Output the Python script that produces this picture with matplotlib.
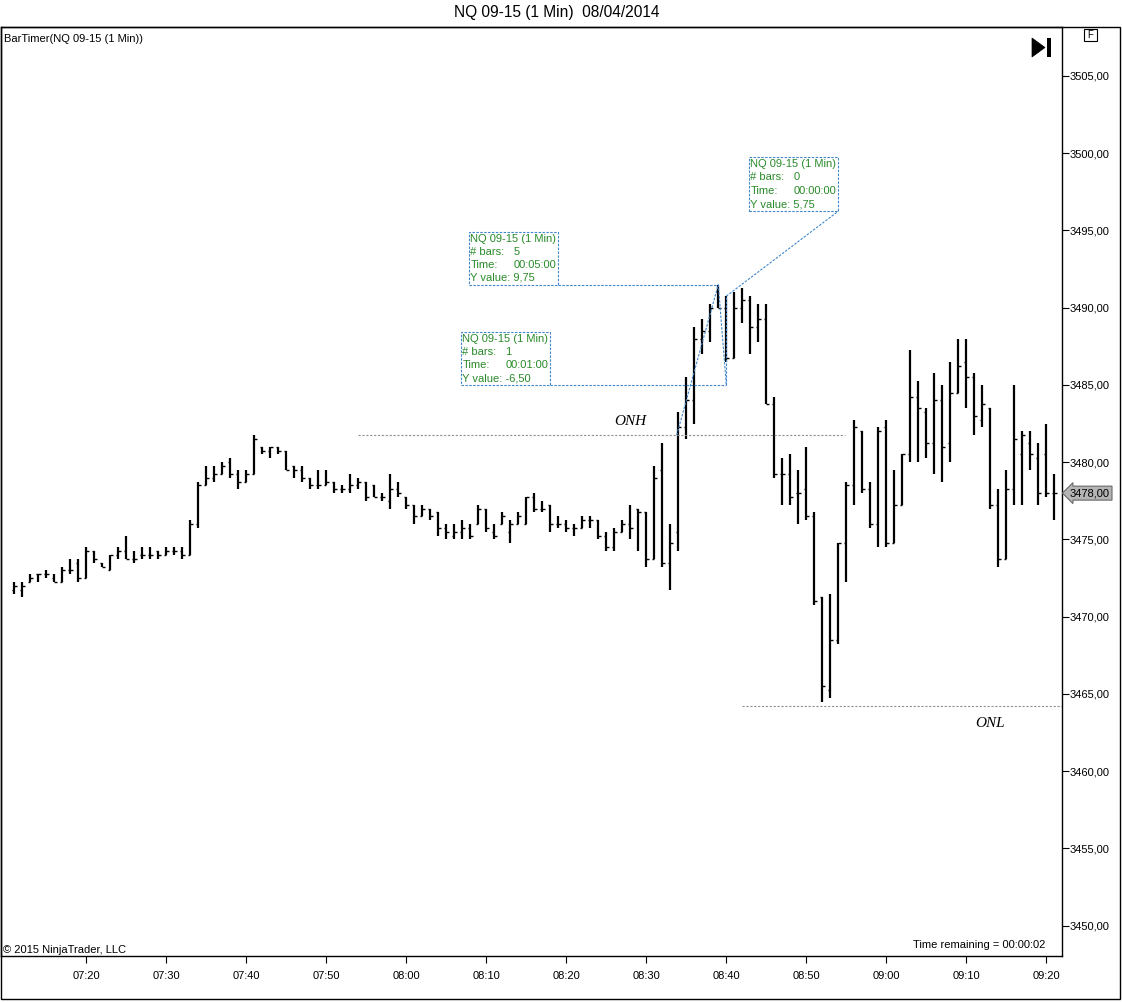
import matplotlib
matplotlib.use("Agg")
import matplotlib.pyplot as plt
import matplotlib.transforms as mtransforms
from matplotlib.patches import Rectangle, Polygon

plt.rcParams['font.family'] = ['Liberation Sans', 'DejaVu Sans']

# 1 minute bars, first bar at 07:11
start_hour = 7
start_min = 11
opens = [3471.75, 3471.75, 3472.25, 3472.75, 3472.75, 3472.5, 3472.25, 3473.0, 3473.5, 3472.5,
         3474.25, 3473.5, 3473.0, 3474.0, 3474.25, 3473.75, 3474.0, 3474.0, 3474.25, 3474.0,
         3474.25, 3474.25, 3474.0, 3476.0, 3478.5, 3479.0, 3479.25, 3480.0, 3479.25, 3478.75,
         3479.25, 3481.0, 3480.75, 3481.0, 3480.75, 3479.75, 3479.5, 3479.0, 3478.5, 3478.5,
         3478.75, 3478.25, 3478.25, 3478.5, 3478.75, 3478.5, 3477.75, 3477.5, 3478.25, 3477.75,
         3477.25, 3476.5, 3477.0, 3476.75, 3475.75, 3475.25, 3475.5, 3475.75, 3476.0, 3477.0,
         3475.5, 3476.0, 3475.5, 3476.0, 3476.0, 3477.75, 3477.0, 3477.25, 3476.0, 3476.0,
         3475.75, 3475.75, 3476.25, 3476.25, 3475.25, 3474.5, 3475.5, 3476.0, 3477.0, 3476.75,
         3473.75, 3479.5, 3473.5, 3475.5, 3482.25, 3484.0, 3488.0, 3488.5, 3491.0, 3490.0,
         3486.75, 3490.0, 3490.5, 3488.75, 3489.25, 3483.75, 3479.25, 3479.25, 3478.0, 3478.25,
         3476.5, 3471.25, 3465.25, 3468.5, 3474.75, 3478.5, 3482.0, 3478.25, 3476.0, 3482.25,
         3474.75, 3477.25, 3480.5, 3484.25, 3483.25, 3481.25, 3484.0, 3481.25, 3484.5, 3486.5,
         3485.5, 3482.75, 3483.5, 3477.25, 3473.75, 3478.25, 3480.5, 3481.25, 3480.25, 3480.5,
         3478.0]
highs = [3472.25, 3472.25, 3472.75, 3472.75, 3473.0, 3472.75, 3473.25, 3473.75, 3473.75, 3474.5,
         3474.25, 3473.5, 3474.0, 3474.5, 3475.25, 3474.25, 3474.5, 3474.5, 3474.25, 3474.5,
         3474.5, 3474.5, 3476.25, 3478.75, 3479.75, 3479.75, 3480.0, 3480.25, 3479.5, 3479.5,
         3481.75, 3481.0, 3481.0, 3481.0, 3480.75, 3479.75, 3479.75, 3479.0, 3479.5, 3479.5,
         3478.75, 3478.5, 3479.25, 3479.0, 3478.75, 3478.5, 3478.0, 3479.25, 3478.75, 3477.75,
         3477.25, 3477.25, 3477.0, 3476.75, 3476.0, 3476.0, 3476.25, 3476.0, 3477.25, 3477.0,
         3476.0, 3476.75, 3476.25, 3476.75, 3477.75, 3478.0, 3477.5, 3477.25, 3476.5, 3476.25,
         3476.0, 3476.5, 3476.5, 3476.25, 3475.5, 3475.75, 3476.25, 3477.25, 3477.0, 3476.75,
         3479.75, 3481.25, 3476.0, 3483.25, 3485.5, 3488.75, 3489.25, 3490.25, 3491.5, 3490.75,
         3491.0, 3491.25, 3490.75, 3490.25, 3490.25, 3484.25, 3480.25, 3480.5, 3479.5, 3481.0,
         3476.75, 3471.25, 3471.5, 3474.75, 3478.75, 3482.75, 3482.0, 3478.75, 3482.25, 3482.75,
         3479.5, 3480.5, 3487.25, 3485.25, 3483.5, 3485.75, 3485.0, 3486.5, 3488.0, 3488.0,
         3485.75, 3485.0, 3483.5, 3478.25, 3479.5, 3485.0, 3482.0, 3482.0, 3481.25, 3482.5,
         3479.25]
lows = [3471.5, 3471.25, 3472.25, 3472.25, 3472.5, 3472.25, 3472.25, 3472.75, 3472.25, 3472.5,
        3473.5, 3473.25, 3473.0, 3473.75, 3473.75, 3473.5, 3473.75, 3473.75, 3473.75, 3474.0,
        3474.0, 3473.75, 3474.0, 3475.75, 3478.5, 3478.75, 3479.25, 3479.0, 3478.25, 3478.75,
        3479.25, 3480.5, 3480.25, 3480.5, 3479.5, 3479.0, 3478.75, 3478.25, 3478.25, 3478.5,
        3478.0, 3478.0, 3478.0, 3478.25, 3477.5, 3477.75, 3477.5, 3477.0, 3477.75, 3477.0,
        3476.0, 3476.5, 3476.25, 3475.25, 3475.0, 3475.0, 3475.0, 3475.0, 3476.0, 3475.5,
        3475.0, 3476.0, 3474.75, 3476.0, 3476.0, 3476.75, 3476.75, 3475.5, 3475.75, 3475.5,
        3475.25, 3475.75, 3475.75, 3475.0, 3474.25, 3474.25, 3475.5, 3475.0, 3474.25, 3473.25,
        3473.75, 3473.25, 3471.75, 3474.25, 3481.5, 3482.5, 3487.0, 3487.75, 3490.0, 3486.5,
        3486.75, 3489.0, 3487.0, 3487.75, 3483.75, 3479.0, 3477.25, 3477.25, 3476.0, 3476.25,
        3470.75, 3464.5, 3464.75, 3468.25, 3472.25, 3477.25, 3478.0, 3475.75, 3474.5, 3474.5,
        3474.75, 3477.25, 3480.0, 3480.0, 3480.25, 3479.25, 3478.75, 3480.0, 3484.5, 3483.5,
        3481.75, 3482.25, 3477.0, 3473.25, 3473.75, 3477.25, 3477.25, 3479.5, 3477.25, 3477.75,
        3476.25]
closes = [3472.0, 3472.0, 3472.5, 3472.75, 3472.75, 3472.25, 3473.0, 3473.0, 3472.5, 3474.25,
          3473.75, 3473.25, 3474.0, 3474.25, 3473.75, 3473.75, 3474.0, 3474.0, 3474.0, 3474.25,
          3474.25, 3474.0, 3476.0, 3478.5, 3479.0, 3479.25, 3479.75, 3479.25, 3478.75, 3479.25,
          3481.5, 3480.75, 3481.0, 3480.75, 3479.5, 3479.5, 3479.0, 3478.5, 3478.5, 3478.75,
          3478.25, 3478.25, 3478.5, 3478.75, 3477.75, 3477.75, 3477.75, 3478.25, 3478.0, 3477.25,
          3476.5, 3477.0, 3476.5, 3475.75, 3475.5, 3475.5, 3475.75, 3475.25, 3477.0, 3475.75,
          3475.25, 3476.5, 3476.0, 3476.5, 3477.75, 3477.0, 3477.0, 3476.0, 3476.0, 3475.75,
          3475.75, 3476.25, 3476.25, 3475.25, 3474.5, 3475.5, 3476.0, 3475.75, 3476.75, 3473.75,
          3479.0, 3473.5, 3474.75, 3482.25, 3484.0, 3488.0, 3488.5, 3490.0, 3490.0, 3486.75,
          3490.0, 3490.5, 3488.75, 3489.25, 3483.75, 3479.25, 3479.25, 3477.75, 3478.0, 3476.5,
          3471.0, 3465.5, 3468.5, 3474.75, 3478.5, 3482.25, 3478.25, 3476.0, 3482.0, 3474.75,
          3477.25, 3480.5, 3484.25, 3483.5, 3481.25, 3484.0, 3481.0, 3484.5, 3486.25, 3485.5,
          3483.0, 3483.75, 3477.25, 3473.75, 3478.25, 3481.5, 3481.75, 3480.5, 3478.0, 3478.0,
          3478.0]

onh = 3481.75
onl = 3464.25
onh_from, onh_to = 43, 103.8
onl_from = 91
yticks = [3450, 3455, 3460, 3465, 3470, 3475, 3480, 3485, 3490, 3495, 3500, 3505]

# ruler points (bar index, price)
ruler_a = (82.8, 3481.75)
ruler_b = (88.0, 3491.5)
ruler_c = (89.0, 3485.0)
ruler_d = (89.0, 3490.75)
box_rows = [
    # left, right, top, bottom, bars, time, yvalue
    (55.8, 66.9, 3488.4, 3485.0, "1", "00:01:00", "-6,50"),
    (56.8, 68.0, 3494.9, 3491.5, "5", "00:05:00", "9,75"),
    (91.8, 103.0, 3499.75, 3496.25, "0", "00:00:00", "5,75"),
]

W, H = 1122, 1002
fig = plt.figure(figsize=(W / 100, H / 100), dpi=100)
fig.patch.set_facecolor('white')


def px(x, y):
    return x / W, 1 - y / H


ax = fig.add_axes([1 / W, 1 - 956 / H, 1061 / W, 929 / H])
n = len(closes)
xs = list(range(n))
ax.vlines(xs, lows, highs, color='black', lw=1.6)
ax.hlines(opens, [i - 0.32 for i in xs], xs, color='black', lw=1.0)
ax.hlines(closes, xs, [i + 0.32 for i in xs], color='black', lw=1.0)

ax.set_xlim(-1.66, 130.96)
ax.set_ylim(3448.04, 3508.17)

# x ticks every 10 minutes
xt, xl = [], []
for i in xs:
    tot = start_hour * 60 + start_min + i
    if tot % 10 == 0:
        xt.append(i)
        xl.append("%02d:%02d" % (tot // 60, tot % 60))
ax.set_xticks(xt)
ax.set_xticklabels(xl)
ax.set_yticks(yticks)
ax.set_yticklabels(["%d,00" % v for v in yticks])
ax.yaxis.tick_right()
ax.tick_params(axis='both', direction='out', length=5, width=0.8, labelsize=8,
               colors='black', pad=0.5)
ax.tick_params(axis='x', pad=6)
for s in ax.spines.values():
    s.set_linewidth(1)

# ONH / ONL lines
ax.hlines(onh, onh_from, onh_to, color='#909090', lw=0.8, linestyles=(0, (2, 1.5)))
ax.hlines(onl, onl_from, 131, color='#909090', lw=0.8, linestyles=(0, (2, 1.5)))
ax.text(77.0, onh + 0.45, "ONH", family=['Liberation Serif', 'DejaVu Serif'],
        style='italic', fontsize=11, ha='center', va='bottom')
ax.text(122.0, onl - 0.75, "ONL", family=['Liberation Serif', 'DejaVu Serif'],
        style='italic', fontsize=11, ha='center', va='top')

# rulers
rc = '#3f86cc'
dash = (0, (2.2, 1.3))
ax.plot([ruler_a[0], ruler_b[0]], [ruler_a[1], ruler_b[1]], color=rc, lw=0.8, ls=dash)
ax.plot([ruler_b[0], ruler_c[0]], [ruler_b[1], ruler_c[1]], color=rc, lw=0.8, ls=dash)
ax.plot([ruler_c[0], ruler_d[0]], [ruler_c[1], ruler_d[1]], color=rc, lw=0.8, ls=dash)
ax.plot([ruler_d[0], box_rows[2][1]], [ruler_d[1], box_rows[2][3]], color=rc, lw=0.8, ls=dash)
ax.plot([box_rows[0][1], ruler_c[0]], [ruler_c[1], ruler_c[1]], color=rc, lw=0.8, ls=dash)
ax.plot([box_rows[1][1], ruler_b[0]], [ruler_b[1], ruler_b[1]], color=rc, lw=0.8, ls=dash)

green = '#2a8a2a'
for left, right, top, bottom, nb, tm, yv in box_rows:
    ax.add_patch(Rectangle((left, bottom), right - left, top - bottom, fill=False,
                           ec=rc, lw=0.8, ls=dash))
    step = (top - bottom) / 4
    rows = [("NQ 09-15 (1 Min)", None), ("# bars:", nb), ("Time:", tm), ("Y value: " + yv, None)]
    for k, (lab, val) in enumerate(rows):
        yy = top - step * (k + 0.5)
        ax.text(left + 0.2, yy, lab, color=green, fontsize=8, va='center', ha='left')
        if val is not None:
            ax.text(left + 5.6, yy, val, color=green, fontsize=8, va='center', ha='left')

# current price marker
blend = mtransforms.blended_transform_factory(ax.transAxes, ax.transData)
ax.text(1.0 + 8 / 1061, closes[-1], "%d,00" % closes[-1], transform=blend, fontsize=8,
        va='center', ha='left', clip_on=False,
        bbox=dict(boxstyle='larrow,pad=0.18', fc='#b4b4b4', ec='#6a6a6a', lw=0.8))

# texts
fig.text(*px(557, 13), "NQ 09-15 (1 Min)  08/04/2014", ha='center', va='center', fontsize=11.2)
fig.text(*px(4, 39), "BarTimer(NQ 09-15 (1 Min))", ha='left', va='center', fontsize=8)
fig.text(*px(3, 950), "\u00a9 2015 NinjaTrader, LLC", ha='left', va='center', fontsize=8)
fig.text(*px(1045, 945), "Time remaining = 00:00:02", ha='right', va='center', fontsize=8)

# outer frame
fig.add_artist(Rectangle(px(0.5, 999), 1119.5 / W, 972 / H, transform=fig.transFigure,
                         fill=False, ec='black', lw=1))
# go-to-end icon
fig.add_artist(Polygon([px(1032, 38), px(1032, 57), px(1045, 47.5)], closed=True,
                       transform=fig.transFigure, fc='black', ec='black', lw=0.5))
fig.add_artist(Rectangle(px(1047, 57), 4 / W, 19 / H, transform=fig.transFigure,
                         fc='black', ec='none'))
# F box
fig.add_artist(Rectangle(px(1084, 41), 13 / W, 12 / H, transform=fig.transFigure,
                         fill=False, ec='black', lw=0.8))
fig.text(*px(1090.5, 35.5), "F", ha='center', va='center', fontsize=7)

fig.savefig("out.png", dpi=100)
